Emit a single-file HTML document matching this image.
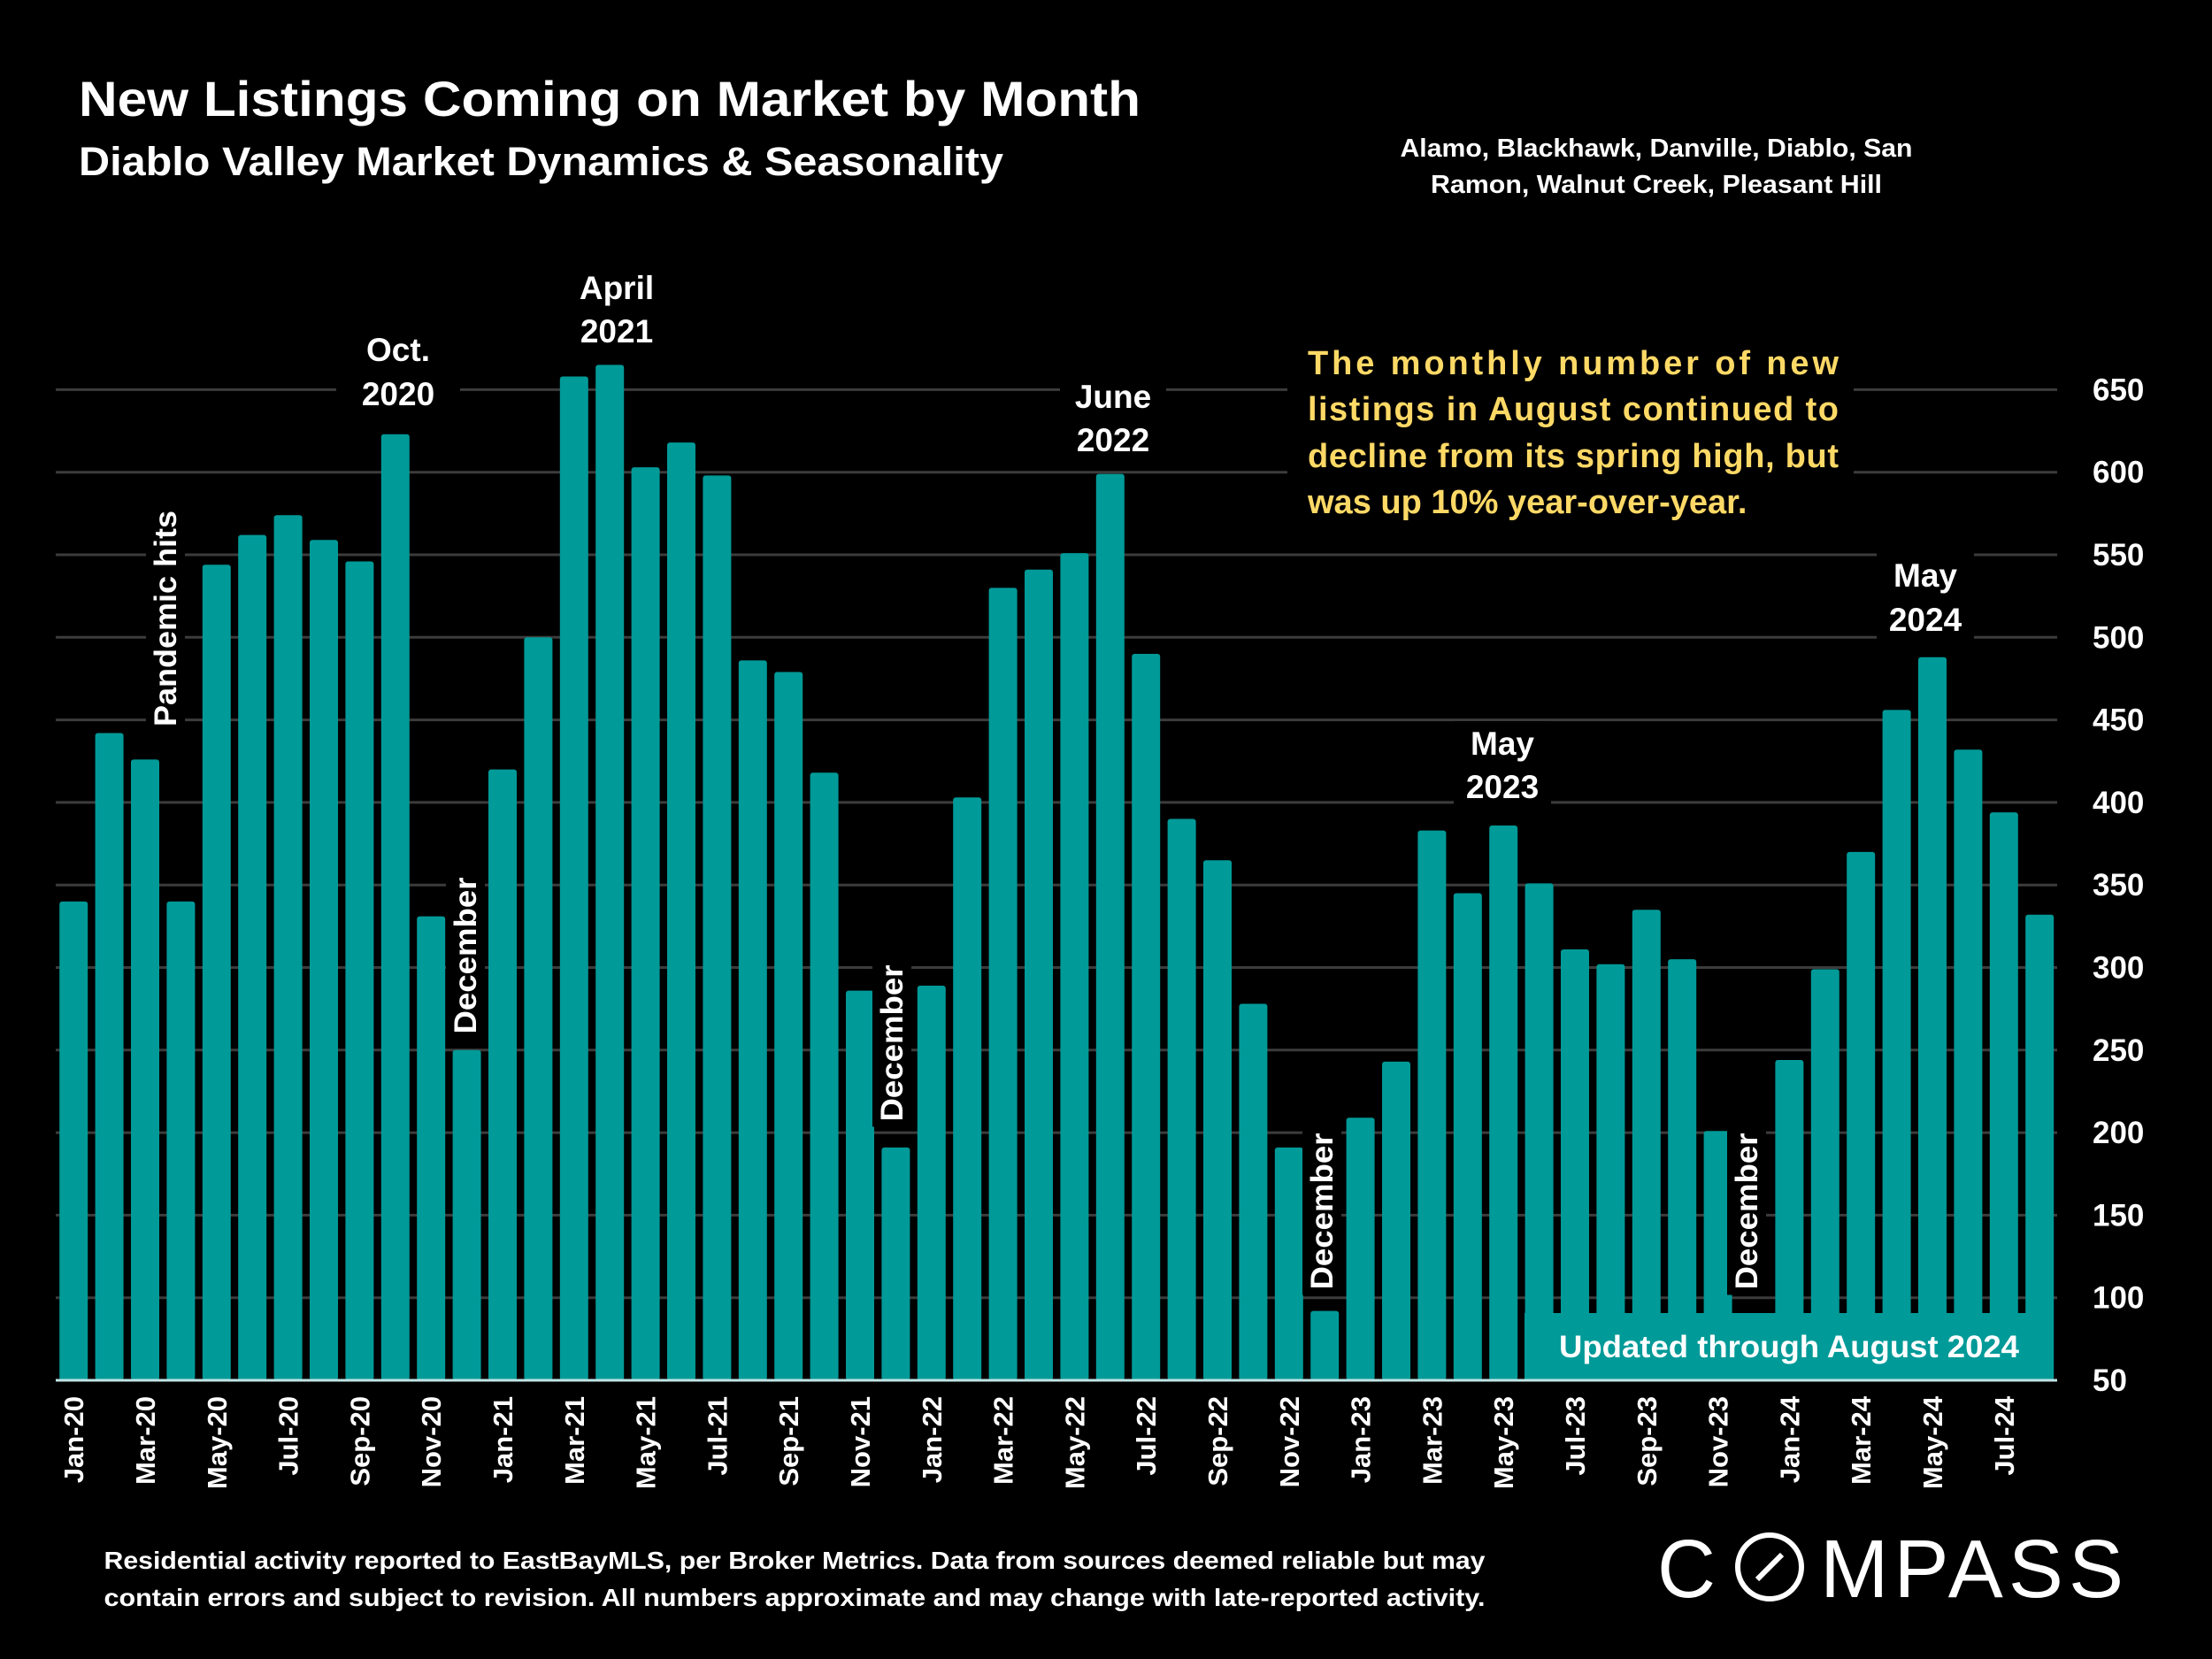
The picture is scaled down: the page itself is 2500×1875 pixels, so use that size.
<!DOCTYPE html>
<html><head><meta charset="utf-8"><style>
html,body{margin:0;padding:0;background:#000;}
svg{display:block;font-family:"Liberation Sans",sans-serif;font-weight:bold;}
</style></head><body>
<svg id="chart" width="2500" height="1875" viewBox="0 0 2500 1875" xmlns="http://www.w3.org/2000/svg">
<rect x="0" y="0" width="2500" height="1875" fill="#000"/>
<text x="89" y="131" fill="#fff" font-size="56" textLength="1200" lengthAdjust="spacingAndGlyphs">New Listings Coming on Market by Month</text>
<text x="89" y="198" fill="#fff" font-size="45" textLength="1045" lengthAdjust="spacingAndGlyphs">Diablo Valley Market Dynamics &amp; Seasonality</text>
<text x="1872" y="177" fill="#fff" font-size="29" text-anchor="middle" textLength="579" lengthAdjust="spacingAndGlyphs">Alamo, Blackhawk, Danville, Diablo, San</text>
<text x="1872" y="218" fill="#fff" font-size="29" text-anchor="middle" textLength="510" lengthAdjust="spacingAndGlyphs">Ramon, Walnut Creek, Pleasant Hill</text>
<g id="grid"></g>
<g id="bars"></g>
<g id="xlabels"></g>
<g id="ylabels"></g>
<g id="annots"></g>
<text x="898" y="1773" fill="#fff" font-size="28" text-anchor="middle" textLength="1561" lengthAdjust="spacingAndGlyphs">Residential activity reported to EastBayMLS, per Broker Metrics. Data from sources deemed reliable but may</text>
<text x="898" y="1815" fill="#fff" font-size="28" text-anchor="middle" textLength="1561" lengthAdjust="spacingAndGlyphs">contain errors and subject to revision. All numbers approximate and may change with late-reported activity.</text>
<g>
<text x="1873" y="1805" fill="#fff" font-size="93" style="font-weight:normal" textLength="66" lengthAdjust="spacingAndGlyphs">C</text>
<text x="2057" y="1805" fill="#fff" font-size="93" style="font-weight:normal" textLength="343" lengthAdjust="spacing">MPASS</text>
<circle cx="2000" cy="1771" r="36" fill="none" stroke="#fff" stroke-width="6"/>
<line x1="1986" y1="1785" x2="2014" y2="1757" stroke="#fff" stroke-width="6"/>
</g>
</svg>
<script>
const months = ["Jan-20","Feb-20","Mar-20","Apr-20","May-20","Jun-20","Jul-20","Aug-20","Sep-20","Oct-20","Nov-20","Dec-20",
"Jan-21","Feb-21","Mar-21","Apr-21","May-21","Jun-21","Jul-21","Aug-21","Sep-21","Oct-21","Nov-21","Dec-21",
"Jan-22","Feb-22","Mar-22","Apr-22","May-22","Jun-22","Jul-22","Aug-22","Sep-22","Oct-22","Nov-22","Dec-22",
"Jan-23","Feb-23","Mar-23","Apr-23","May-23","Jun-23","Jul-23","Aug-23","Sep-23","Oct-23","Nov-23","Dec-23",
"Jan-24","Feb-24","Mar-24","Apr-24","May-24","Jun-24","Jul-24","Aug-24"];
const listings = [340,442,426,340,544,562,574,559,546,623,331,250,
420,500,658,665,603,618,598,486,479,418,286,191,
289,403,530,541,551,599,490,390,365,278,191,92,
209,243,383,345,386,351,311,302,335,305,201,90,
244,299,370,456,488,432,394,332];
const yTicks = [50,100,150,200,250,300,350,400,450,500,550,600,650];

const NS="http://www.w3.org/2000/svg";
const plotL=63, pitch=40.4, barW=32, y0=1560, yPer=93.3/50, yMin=50, plotR=2325;
const yScale=v=>y0-(v-yMin)*yPer;
const xCenter=i=>plotL+pitch*(i+0.5);
function mk(tag,attrs,parent,txt){const e=document.createElementNS(NS,tag);for(const k in attrs)e.setAttribute(k,attrs[k]);if(txt!==undefined)e.textContent=txt;parent.appendChild(e);return e;}

const grid=document.getElementById('grid');
yTicks.forEach(t=>{ if(t===50) return;
  const l=mk('line',{x1:plotL,x2:plotR,y1:yScale(t),y2:yScale(t),stroke:'#3c3c3c','stroke-width':3},grid);
  
  
});
const ylab=document.getElementById('ylabels');
yTicks.forEach(t=>{
  const e=mk('text',{x:2365,y:yScale(t)+12,fill:'#fff','font-size':35},ylab,String(t));
  
  
});
const bars=document.getElementById('bars');
listings.forEach((v,i)=>{
  const y=yScale(v);
  const b=mk('rect',{x:xCenter(i)-barW/2,y:y,width:barW,height:y0-y,fill:'#009a98',rx:3},bars);
  
  
});
const xl=document.getElementById('xlabels');
months.forEach((m,i)=>{ if(i%2) return;
  const x=xCenter(i)+11, y=1578;
  const e=mk('text',{x:x,y:y,fill:'#fff','font-size':31,'text-anchor':'end',transform:`rotate(-90 ${x} ${y})`},xl,m);
  
  
});

const an=document.getElementById('annots');
function label2(cx,b1,b2,l1,l2,name,bw){
  const g=mk('g',{},an);
  
  
  mk('rect',{x:cx-bw/2,y:b1-38,width:bw,height:b2-b1+50,fill:'#000'},g);
  mk('text',{x:cx,y:b1,fill:'#fff','font-size':37,'text-anchor':'middle'},g,l1);
  mk('text',{x:cx,y:b2,fill:'#fff','font-size':37,'text-anchor':'middle'},g,l2);
}
function vlabel(cx,cy,txt,len,name){
  const g=mk('g',{transform:`rotate(-90 ${cx} ${cy})`},an);
  
  
  mk('rect',{x:cx-len/2-6,y:cy-22,width:len+12,height:44,fill:'#000'},g);
  mk('text',{x:cx,y:cy+12,fill:'#fff','font-size':35,'text-anchor':'middle',textLength:len,lengthAdjust:'spacingAndGlyphs'},g,txt);
}
label2(450,408,458,'Oct.','2020','annotation-oct-2020',140);
label2(697,338,387,'April','2021','annotation-april-2021',110);
label2(1258,461,510,'June','2022','annotation-june-2022',120);
label2(1698,853,902,'May','2023','annotation-may-2023',110);
label2(2176,663,713,'May','2024','annotation-may-2024',110);
vlabel(187,699,'Pandemic hits',244,'annotation-pandemic-hits');
vlabel(526,1080,'December',177,'annotation-december-2020');
vlabel(1008,1179,'December',177,'annotation-december-2021');
vlabel(1494,1369,'December',177,'annotation-december-2022');
vlabel(1974,1369,'December',177,'annotation-december-2023');

const cg=mk('g',{},an);


mk('rect',{x:1455,y:370,width:640,height:235,fill:'#000'},cg);
const lines=[["The monthly number of new",423,true],["listings in August continued to",475,true],["decline from its spring high, but",528,true],["was up 10% year-over-year.",580,false]];
lines.forEach(([t,y,j])=>{
  const a={x:1478,y:y,fill:'#ffd966','font-size':38};
  if(j){a.textLength=600;a.lengthAdjust='spacing';}
  mk('text',a,cg,t);
});

const ub=mk('g',{},an);


mk('rect',{x:1723,y:1484,width:598,height:76,fill:'#009a98'},ub);
mk('text',{x:2022,y:1534,fill:'#fff','font-size':35,'text-anchor':'middle',textLength:520,lengthAdjust:'spacingAndGlyphs'},ub,'Updated through August 2024');
const ax=mk('line',{x1:plotL,x2:plotR,y1:1560,y2:1560,stroke:'#bfe6e6','stroke-width':3},an);


</script>
</body></html>
